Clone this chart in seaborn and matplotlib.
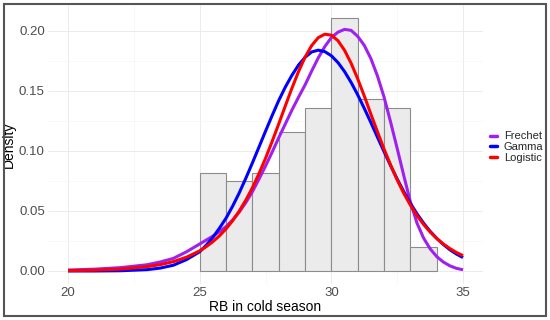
import matplotlib
matplotlib.use("Agg")
import matplotlib.pyplot as plt
import seaborn as sns
import pandas as pd
from matplotlib.lines import Line2D
from matplotlib.patches import Rectangle

# ---- data ----
bin_edges = [25, 26, 27, 28, 29, 30, 31, 32, 33, 34]
bin_density = [0.0816, 0.0748, 0.0816, 0.1156, 0.1361, 0.2109, 0.1429, 0.1361, 0.0204]

x_grid = [20, 21, 22, 23, 23.5, 24, 24.5,
          25, 25.25, 25.5, 25.75, 26, 26.25, 26.5, 26.75, 27, 27.25, 27.5, 27.75,
          28, 28.25, 28.5, 28.75, 29, 29.25, 29.5, 29.75, 30, 30.25, 30.5, 30.75,
          31, 31.25, 31.5, 31.75, 32, 32.25, 32.5, 32.75, 33, 33.25, 33.5, 33.75,
          34, 34.25, 34.5, 34.75, 35]
frechet = [0.0008, 0.0015, 0.0028, 0.0052, 0.0075, 0.0105, 0.0160,
           0.0225, 0.0258, 0.0290, 0.0328, 0.0370, 0.0425, 0.0490, 0.0570, 0.0660,
           0.0765, 0.0875, 0.0990, 0.1110, 0.1225, 0.1340, 0.1447, 0.1550, 0.1665,
           0.1775, 0.1870, 0.1945, 0.1990, 0.2013, 0.2005, 0.1955, 0.1880, 0.1770,
           0.1625, 0.1450, 0.1240, 0.1020, 0.0795, 0.0575, 0.0400, 0.0275, 0.0185,
           0.0120, 0.0075, 0.0043, 0.0022, 0.0010]
gamma = [0.0000, 0.0000, 0.0002, 0.0011, 0.0024, 0.0048, 0.0095,
         0.0160, 0.0215, 0.0280, 0.0357, 0.0440, 0.0540, 0.0650, 0.0772, 0.0900,
         0.1032, 0.1165, 0.1295, 0.1420, 0.1532, 0.1630, 0.1715, 0.1780, 0.1825,
         0.1840, 0.1828, 0.1793, 0.1737, 0.1662, 0.1571, 0.1468, 0.1355, 0.1237,
         0.1115, 0.0995, 0.0877, 0.0766, 0.0661, 0.0564, 0.0477, 0.0399, 0.0331,
         0.0272, 0.0221, 0.0177, 0.0141, 0.0112]
logistic = [0.0003, 0.0007, 0.0016, 0.0036, 0.0053, 0.0078, 0.0115,
            0.0168, 0.0203, 0.0244, 0.0293, 0.0351, 0.0419, 0.0499, 0.0590, 0.0693,
            0.0811, 0.0939, 0.1079, 0.1225, 0.1375, 0.1522, 0.1660, 0.1781, 0.1878,
            0.1944, 0.1973, 0.1965, 0.1919, 0.1839, 0.1731, 0.1601, 0.1458, 0.1307,
            0.1160, 0.1016, 0.0883, 0.0758, 0.0647, 0.0549, 0.0462, 0.0388, 0.0325,
            0.0271, 0.0225, 0.0187, 0.0154, 0.0128]

series_names = ["Frechet", "Gamma", "Logistic"]
series_colors = ["#A020F0", "#0000FF", "#FF0000"]
x_ticks = [20, 25, 30, 35]
y_ticks = [0.00, 0.05, 0.10, 0.15, 0.20]
y_tick_labels = ["0.00", "0.05", "0.10", "0.15", "0.20"]
x_label = "RB in cold season"
y_label = "Density"

# ---- build tables ----
bin_centers = [(a + b) / 2 for a, b in zip(bin_edges[:-1], bin_edges[1:])]
n = len(x_grid)
curves = pd.DataFrame({
    "x": x_grid * 3,
    "density": frechet + gamma + logistic,
    "dist": [series_names[0]] * n + [series_names[1]] * n + [series_names[2]] * n,
})
palette = dict(zip(series_names, series_colors))

sns.set_theme(style="white")
plt.rcParams["font.family"] = ["Liberation Sans", "DejaVu Sans"]

fig = plt.figure(figsize=(5.5, 3.2), dpi=100)
ax = fig.add_axes([0.0878, 0.1138, 0.79, 0.8697])

sns.histplot(x=bin_centers, weights=bin_density, bins=bin_edges, stat="count",
             color="#EBEBEB", edgecolor="#8C8C8C", linewidth=0.8, alpha=1, ax=ax)

sns.lineplot(data=curves, x="x", y="density", hue="dist", hue_order=series_names,
             palette=palette, linewidth=2.2, estimator=None, sort=False,
             legend=False, ax=ax)
for line in ax.get_lines():
    line.set_solid_joinstyle("round")
    line.set_solid_capstyle("butt")

ax.set_xlim(19.25, 35.75)
ax.set_ylim(-0.0105, 0.2214)
ax.set_xticks(x_ticks)
ax.set_yticks(y_ticks)
ax.set_yticklabels(y_tick_labels)
ax.set_xticks([22.5, 27.5, 32.5], minor=True)
ax.set_yticks([0.025, 0.075, 0.125, 0.175], minor=True)
ax.set_axisbelow(True)
ax.grid(which="major", color="#EBEBEB", linewidth=0.7)
ax.grid(which="minor", color="#F3F3F3", linewidth=0.4)
ax.tick_params(which="both", length=0, labelsize=9.5, labelcolor="#4D4D4D", pad=2.5)
for s in ax.spines.values():
    s.set_visible(False)

ax.set_xlabel(x_label, fontsize=10, color="black", labelpad=1)
ax.set_ylabel(y_label, fontsize=10, color="black", labelpad=2.5)

handles = [Line2D([0], [0], color=c, linewidth=2.5) for c in series_colors]
fig.legend(handles, series_names, loc="center left",
           bbox_to_anchor=(490 / 550, (320 - 147) / 320), frameon=False,
           fontsize=8, handlelength=0.65, handletextpad=0.6, labelspacing=0.05,
           borderpad=0, borderaxespad=0)

fig.patches.append(Rectangle((3.5 / 550, 4.5 / 320), (546 - 3.5) / 550, (315.5 - 4) / 320,
                             transform=fig.transFigure, fill=False,
                             edgecolor="#555555", linewidth=1.5))

fig.savefig("out.png", dpi=100)
